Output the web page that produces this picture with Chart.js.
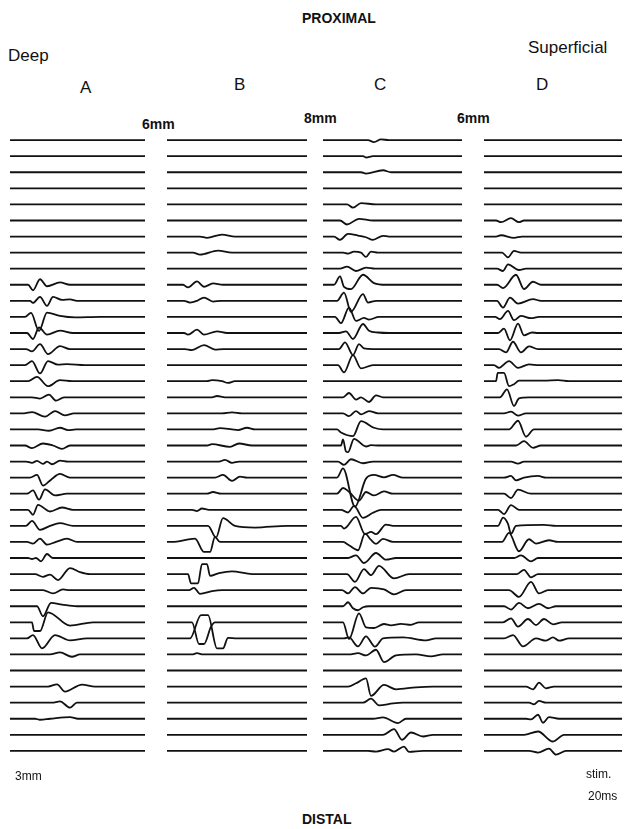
<!DOCTYPE html>
<html lang="en">
<head>
  <meta charset="UTF-8" />
  <title>Proximal – Distal traces</title>
  <script src="https://cdn.jsdelivr.net/npm/chart.js"></script>
  <style>
    html, body { margin: 0; padding: 0; background: #fff; }
    body { width: 626px; height: 829px; position: relative; overflow: hidden;
           font-family: "Liberation Sans", Arial, sans-serif; color: #111; }
    .lbl { position: absolute; line-height: 1; white-space: nowrap; }
    .big { font-size: 14px; font-weight: bold; }
    .side { font-size: 17px; }
    .col { font-size: 17px; }
    .dist { font-size: 14px; font-weight: bold; }
    .small { font-size: 12px; }
    canvas { position: absolute; top: 116px; }
  </style>
</head>
<body>
  <div class="lbl big" style="left:302px; top:11px;">PROXIMAL</div>
  <div class="lbl side" style="left:8px; top:47px;">Deep</div>
  <div class="lbl side" style="left:528px; top:39px;">Superficial</div>

  <div class="lbl col" style="left:80px; top:79px;">A</div>
  <div class="lbl col" style="left:234px; top:76px;">B</div>
  <div class="lbl col" style="left:374px; top:76px;">C</div>
  <div class="lbl col" style="left:536px; top:76px;">D</div>

  <div class="lbl dist" style="left:142px; top:117px;">6mm</div>
  <div class="lbl dist" style="left:304px; top:111px;">8mm</div>
  <div class="lbl dist" style="left:457px; top:111px;">6mm</div>

  <canvas id="colA" width="150" height="659" style="left:10px;"></canvas>
  <canvas id="colB" width="150" height="659" style="left:167px;"></canvas>
  <canvas id="colC" width="150" height="659" style="left:323px;"></canvas>
  <canvas id="colD" width="150" height="659" style="left:484px;"></canvas>

  <div class="lbl small" style="left:15px; top:770px;">3mm</div>
  <div class="lbl small" style="left:586px; top:768px;">stim.</div>
  <div class="lbl small" style="left:588px; top:790px;">20ms</div>
  <div class="lbl dist" style="left:302px; top:812px;">DISTAL</div>

  <script>
    // one trace per recording site, top (proximal) to bottom (distal)
    // key points [time, deflection]; flat trace = []
    const traceA = [
      [], [], [], [], [], [], [], [], [],
      [[18,0],[23,-5.5],[30,5.5],[37,-1.5],[50,2.3],[60,0]],
      [[20,0],[23,-2],[30,4],[37,-5],[43,4],[52,1],[60,1.5],[67,0]],
      [[15,0],[21,4],[29,-14],[37,4.3],[50,1],[65,-0.5],[90,0]],
      [[17,0],[23,-6],[29,5.5],[37,-1.7],[50,2.3],[63,0]],
      [[16,0],[22,-2.3],[30,5],[38,-5],[50,3],[60,0]],
      [[15,0],[22,4],[30,-8.3],[38,4],[48,0.5],[57,1],[75,0]],
      [[18,0],[27,4.3],[38,-5],[50,1],[62,0]],
      [[22,0],[30,-1.3],[39,2.7],[46,-3.3],[54,0]],
      [[14,0],[22,1.3],[35,-3.3],[45,2.3],[55,-2],[64,0]],
      [[28,0],[39,-1.3],[50,1.7],[58,-0.7],[66,0]],
      [[15,0],[22,-2.7],[33,2],[43,0],[52,-3.3],[60,0]],
      [[16,0],[22,-1.3],[27,0.7],[33,-2.3],[37,0],[42,-2.7],[50,1],[58,0]],
      [[20,0],[27,2.7],[33,-8],[41,-2],[50,3.7],[60,0]],
      [[17,0],[23,3.3],[29,-6],[35,4.3],[45,-1.7],[57,0]],
      [[18,0],[23,-5],[28,5],[40,-1.7],[52,2.3],[63,0]],
      [[16,0],[22,5],[30,-4],[40,0],[50,2.7],[63,0]],
      [[17,0],[23,-1.7],[30,3.3],[37,-2.7],[46,0],[57,3.3],[67,0]],
      [[18,0],[22,-1],[26,0],[31,-3.3],[37,4],[43,0]],
      [[25,0],[33,-2.7],[40,-0.5],[48,-6],[60,6],[70,2],[80,0]],
      [[33,0],[43,-3.3],[53,0.7],[60,0]],
      [[27,0],[33,-10],[41,3.3],[52,1.7],[67,0]],
      [[22,0],[24,-8.7],[30,-8.7],[38,10],[60,-3.3],[83,0]],
      [[17,0],[23,3.3],[32,-10],[45,3.3],[60,-2],[77,0]],
      [[40,0],[50,2],[62,-2.3],[70,0]],
      [],
      [[38,0],[47,2.3],[55,-5],[72,2],[85,0]],
      [[42,0],[50,1.3],[60,-5],[67,0]],
      [[25,0],[30,-1],[40,0],[60,1.7],[68,0]],
      [], []
    ];

    const traceB = [
      [], [], [], [], [], [],
      [[33,0],[40,-1.3],[55,2],[68,0]],
      [[26,0],[33,-2],[51,2],[65,0]],
      [],
      [[16,0],[21,-2.7],[30,3.3],[37,-2],[46,1.3],[56,0]],
      [[17,0],[23,-1.7],[30,0],[37,3.3],[46,-0.7],[54,0]],
      [],
      [[17,0],[21,-1.7],[30,3.3],[37,-1.7],[50,1.7],[60,0]],
      [[18,0],[25,-1],[37,4],[48,-0.5],[56,0]],
      [],
      [[40,0],[45,1],[55,0],[61,-1.7],[68,0]],
      [[45,0],[50,1.3],[58,0]],
      [[55,0],[65,1],[75,0]],
      [[45,0],[53,1.3],[65,0],[71,-0.7],[80,1.7],[88,0]],
      [[40,0],[45,1.3],[63,-1.3],[72,2],[85,0]],
      [[52,0],[58,1.7],[65,-1.3],[72,0]],
      [[48,0],[56,2.7],[65,-3.3],[73,1],[80,0]],
      [[40,0],[46,1.7],[54,0]],
      [[25,0],[30,-1.3],[35,1.3],[42,0]],
      [[41,0],[49,-11.7],[56,7.7],[68,0],[88,-1.7],[120,0]],
      [[5,0],[28,3.3],[37,-10],[43,-10],[48,5],[53,0]],
      [],
      [[21,0],[24,-9.3],[31,-9.3],[35,10],[40,10],[43,-1.7],[52,1],[65,2.7],[85,0]],
      [[22,0],[27,2.3],[33,-3.7],[45,-1],[55,0]],
      [],
      [[25,0],[32,-21.7],[37,-21.7],[44,-4.3],[48,0]],
      [[23,0],[34,23.3],[41,23.3],[50,-10],[56,-10],[61,0.5],[70,0]],
      [[25,0],[30,1.3],[36,0]],
      [], [], [], [], [], []
    ];

    const traceC = [
      [[45,0],[51,-2],[58,0.7],[66,0]],
      [[40,0],[43,-1.3],[50,0]],
      [[38,0],[43,-1.3],[60,2],[68,0]],
      [],
      [[24,0],[30,-3.3],[38,1.3],[53,0]],
      [[17,0],[24,-4],[36,1.7],[50,0]],
      [[11,0],[17,-3.3],[25,2.7],[35,1],[43,-0.7],[50,-3.3],[60,0.7],[66,0]],
      [[20,0],[25,-1],[31,1],[38,0],[43,-4.3],[48,1],[55,0]],
      [[17,0],[24,2],[33,-2.3],[43,1],[52,0]],
      [[11,0],[17,8.3],[21,-2],[28,-4.3],[40,10],[51,1.7],[63,0]],
      [[14,0],[21,8.3],[28,-11],[40,6.7],[45,-1.7],[53,0]],
      [[12,0],[18,-6.3],[26,9.3],[33,-4],[41,-1],[46,-2.7],[56,0]],
      [[16,0],[23,1.7],[30,-6],[40,9],[46,2.3],[55,0.5],[66,0]],
      [[16,0],[22,6.7],[30,-6],[36,5],[41,0.7],[50,0]],
      [[15,0],[21,-7.3],[30,10],[38,-3.3],[50,0]],
      [],
      [[20,0],[26,4.3],[33,-2.3],[38,0],[46,-4.7],[53,2],[60,0]],
      [[20,0],[26,-2.7],[33,2.3],[38,-1],[46,2.3],[55,0]],
      [[14,0],[18,-3],[30,-6.7],[38,8.3],[51,1.7],[60,0]],
      [[18,0],[20,6],[23,-6],[25,-6.7],[31,6.7],[43,-1],[48,0.3],[55,0]],
      [[15,0],[21,-3.3],[28,2.3],[40,-1.7],[50,0]],
      [[14,0],[20,9.3],[32,-29],[43,-1],[51,2.7],[61,0.3],[70,2.7],[80,0]],
      [[14,0],[20,5.7],[26,2],[36,-7],[43,1.7],[51,-1.7],[61,2.3],[70,0]],
      [[18,0],[25,-2.7],[31,4],[40,-8],[50,-3],[58,0]],
      [[18,0],[21,-2.7],[33,9],[42,-8.3],[48,-6],[53,-8.3],[63,1.3],[70,0]],
      [[20,0],[26,-3.3],[35,-8.3],[42,8.3],[48,2],[53,-2],[60,3],[70,0]],
      [[25,0],[33,2.7],[41,-5],[53,5],[63,-1.7],[73,0]],
      [[24,0],[32,-7.7],[41,5],[48,-1],[56,8.3],[71,-4.3],[86,0]],
      [[19,0],[25,-3.3],[32,3],[40,-3.3],[48,2.3],[61,0.7],[71,-4.3],[83,0]],
      [[20,0],[25,4],[30,-2],[35,-4],[40,-1],[46,0]],
      [[20,0],[26,-16.7],[36,9],[43,-5],[51,-5.7],[61,-1.7],[68,-3],[78,-1.5],[88,-2.5],[96,0]],
      [[21,0],[26,1],[35,-8],[43,2],[52,-8.3],[60,0],[80,1],[103,-2],[113,0]],
      [[26,0],[35,1.3],[43,-1],[53,4.7],[61,-7.7],[73,-1],[93,0],[108,-2],[120,0]],
      [],
      [[25,0],[33,3.3],[43,8.3],[48,-9.3],[61,1.7],[73,-2.7],[93,-0.7],[110,0]],
      [[40,0],[48,4],[56,-2.7],[70,-0.7],[80,0]],
      [[50,0],[60,1.3],[75,-4.3],[83,0]],
      [[60,0],[71,5.7],[79,-5],[88,2.3],[100,-1.7],[110,0]],
      [[45,0],[53,-0.7],[65,1.7],[71,-0.7],[81,4.3],[86,-1],[100,0]]
    ];

    const traceD = [
      [], [], [], [], [],
      [[12,0],[17,-1.7],[27,2.3],[35,-1.7],[40,0]],
      [[12,0],[17,1.3],[30,-1.3],[38,0]],
      [[18,0],[24,-4.7],[30,1.7],[37,0]],
      [[13,0],[19,-2.3],[24,4.3],[35,-1.3],[42,0]],
      [[13,0],[19,-3.3],[32,10],[40,-4.3],[49,3],[57,0]],
      [[13,0],[19,-6.7],[26,3.3],[34,-2.7],[49,1.7],[57,0]],
      [[11,0],[16,-2.3],[24,6],[30,-3.3],[37,1],[47,-1.3],[55,0]],
      [[14,0],[20,4.3],[26,-7.3],[34,9.3],[40,-2.3],[48,0.5],[54,0]],
      [[15,0],[22,-3.3],[29,7.3],[37,-3.3],[45,2.7],[54,0]],
      [[10,0],[15,-2.7],[25,4],[34,-2.7],[45,0.7],[55,0]],
      [[12,0],[13.7,8.3],[20,8.3],[25,-5],[30,-3],[35,0.5],[60,0.5],[74,1],[85,0]],
      [[16,0],[23,8],[30,-8.7],[35,-1],[45,0]],
      [[20,0],[27,1.7],[34,-2.3],[42,0]],
      [[25,0],[34,8.7],[42,-7.3],[50,0]],
      [[32,0],[40,4.3],[49,-2.3],[57,0]],
      [[27,0],[34,-2],[40,0]],
      [[20,0],[27,1.7],[32,-2.7],[40,0],[54,1.7],[62,0]],
      [[20,0],[27,-4.3],[34,4],[47,0]],
      [[14,0],[20,-4.3],[27,4.7],[35,0]],
      [[14,0],[19,8.3],[24,2],[27,-8],[32,0],[60,1],[72,0]],
      [[18,0],[25,9],[35,-9.3],[45,2.7],[52,-1.7],[65,1.7],[74,0]],
      [[30,0],[37,2.7],[47,-3.3],[54,0]],
      [[33,0],[40,4.3],[47,-3.3],[54,0]],
      [[25,0],[35,-6.7],[47,8.3],[55,-3.3],[64,0]],
      [[20,0],[27,-3.3],[35,3.3],[44,-2],[55,2.3],[64,-2],[72,0]],
      [[19,0],[27,4],[34,-4.3],[44,3.3],[52,-2.7],[60,3.3],[69,-2],[78,0]],
      [[20,0],[29,3.3],[39,-8],[52,0],[62,-2.3],[69,1],[75,-2.3],[85,0]],
      [], [],
      [[42,0],[49,-2.7],[55,4],[62,-1.7],[70,0]],
      [[45,0],[50,-1.7],[55,1.7],[62,0]],
      [[42,0],[47,-0.7],[54,4],[59,-4],[65,1.7],[75,0]],
      [[40,0],[54,3.3],[69,-6.7],[80,0]],
      [[45,0],[54,-1.7],[65,2.3],[72,-3.7],[82,0]]
    ];

    const sweepEnd = { colA: 135, colB: 140, colC: 139, colD: 138 };
    const GAIN = 16.07; // deflection units per trace spacing

    const makeColumn = (id, traces) => {
      const end = sweepEnd[id];
      const datasets = traces.map((pts, i) => ({
        data: [[0, 0], ...pts, [end, 0]].map(([t, v]) => ({ x: t, y: i - v / GAIN })),
        borderColor: '#111',
        borderWidth: 1.8,
        pointRadius: 0,
        fill: false,
        cubicInterpolationMode: 'monotone',
        clip: false,
      }));

      new Chart(document.getElementById(id), {
        type: 'line',
        data: { datasets },
        options: {
          responsive: false,
          animation: false,
          events: [],
          layout: { padding: 0 },
          plugins: { legend: { display: false }, tooltip: { enabled: false } },
          scales: {
            x: { type: 'linear', display: false, min: 0, max: 150 },
            y: { type: 'linear', display: false, min: -1.5, max: 39.5, reverse: true }
          }
        }
      });
    };

    makeColumn('colA', traceA);
    makeColumn('colB', traceB);
    makeColumn('colC', traceC);
    makeColumn('colD', traceD);
  </script>
</body>
</html>
